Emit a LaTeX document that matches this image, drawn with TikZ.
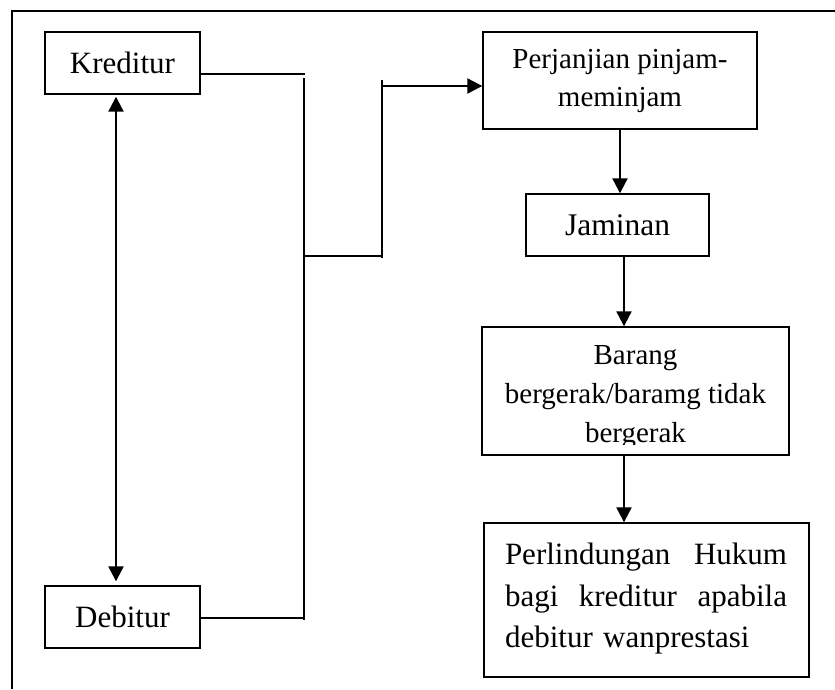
\documentclass[tikz,border=0pt]{standalone}
\usepackage{fontspec}
\setmainfont{Liberation Serif}
\usetikzlibrary{arrows.meta}
\tikzset{
  box/.style={draw, line width=1.4pt, inner sep=0pt, align=center},
  conn/.style={line width=1.3pt},
  arr/.style={line width=2.2pt, -{Triangle[length=15pt,width=15pt]}},
  darr/.style={line width=2.2pt, {Triangle[length=15pt,width=15pt]}-{Triangle[length=15pt,width=15pt]}},
  frame/.style={line width=2pt}
}
\begin{document}
\begin{tikzpicture}[x=1pt,y=-1pt]
\useasboundingbox (0,0) rectangle (835,689);
% frame
\draw[frame] (835,11) -- (12,11) -- (12,689);
% left boxes
\node[box, minimum width=155pt, minimum height=62pt, font=\fontsize{31}{38}\selectfont] (kred) at (122.5,63) {Kreditur};
\node[box, minimum width=155pt, minimum height=62pt, font=\fontsize{31}{38}\selectfont] (debt) at (122.5,617) {Debitur};
% right boxes
\node[box, minimum width=274pt, minimum height=97pt, font=\fontsize{29}{38}\selectfont] (perj) at (620,80.5) {Perjanjian pinjam-\\meminjam};
\node[box, minimum width=183pt, minimum height=62pt, font=\fontsize{31.5}{38}\selectfont] (jam) at (617.5,225) {Jaminan};
\node[box, minimum width=307pt, minimum height=128pt] (bar) at (635.5,391) {};
\begin{scope}
  \clip (482,327) rectangle (789,444);
  \node[inner sep=0pt, align=center, font=\fontsize{29}{39}\selectfont] (bartxt) at (635.5,397) {Barang\\bergerak/baramg tidak\\bergerak};
\end{scope}
\node[box, minimum width=325pt, minimum height=154pt] (perl) at (646.5,600) {};
\node[inner sep=0pt, text width=282pt, align=left, font=\fontsize{31}{41.5}\selectfont] (perltxt) at (646,599) {Perlindungan\hfill Hukum\\bagi\hfill kreditur\hfill apabila\\debitur wanprestasi};
% connector coordinates
\coordinate (k1) at (305,74);
\coordinate (v1) at (304,78);
\coordinate (v2) at (304,620);
\coordinate (d1) at (304,618);
\coordinate (m1) at (304,256);
\coordinate (m2) at (382,256);
\coordinate (u1) at (382,80);
\coordinate (u2) at (382,258);
\coordinate (u3) at (382,86);
\coordinate (ax) at (624,0);
% connectors
\draw[conn] (kred.east |- k1) -- (k1);
\draw[conn] (v1) -- (v2);
\draw[conn] (debt.east |- d1) -- (d1);
\draw[conn] (m1) -- (m2);
\draw[conn] (u1) -- (u2);
\draw[arr] (u3) -- (perj.west |- u3);
\draw[darr] ([xshift=-6.5pt,yshift=-2pt]kred.south) -- ([xshift=-6.5pt,yshift=4pt]debt.north);
\draw[arr] (perj.south) -- (jam.north -| perj.south);
\draw[arr] (jam.south -| ax) -- (bar.north -| ax);
\draw[arr] (bar.south -| ax) -- (perl.north -| ax);
\end{tikzpicture}
\end{document}
